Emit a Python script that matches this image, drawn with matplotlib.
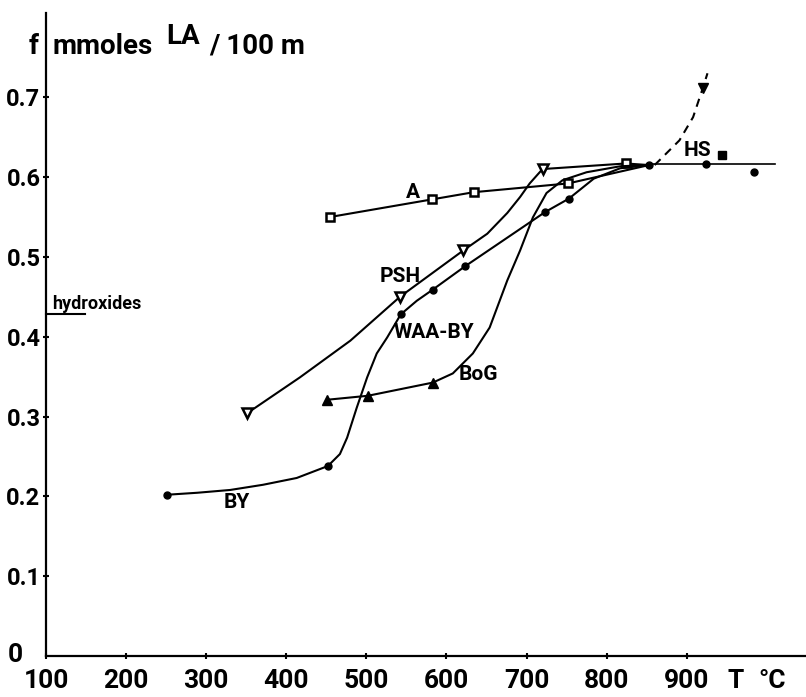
import matplotlib
matplotlib.use("Agg")
from matplotlib import pyplot as plt

plt.rcParams["font.family"] = ["Roboto", "DejaVu Sans"]
plt.rcParams["font.weight"] = "bold"

# curves (T in degC, f in mmoles LA / 100 m)
A_T = [455, 582, 634, 752, 853]
A_f = [0.550, 0.572, 0.581, 0.592, 0.615]
A_mark = [0, 1, 2, 3]

PSH_T = [351, 417, 480, 542, 621, 651, 676, 692, 704, 720, 824, 853]
PSH_f = [0.304, 0.349, 0.395, 0.450, 0.508, 0.529, 0.555, 0.575, 0.592, 0.610, 0.617, 0.615]
PSH_mark = [0, 3, 4, 9]
PSH_sq = [10]

BY_T = [251, 289, 330, 371, 413, 452, 467, 476, 488, 501, 513, 526, 543, 563, 583,
        623, 723, 753, 784, 817, 853]
BY_f = [0.202, 0.2045, 0.208, 0.2145, 0.223, 0.238, 0.253, 0.2735, 0.311, 0.349, 0.379,
        0.399, 0.428, 0.445, 0.459, 0.488, 0.556, 0.573, 0.598, 0.611, 0.615]
BY_mark = [0, 5, 12, 14, 15, 16, 17, 20]

BoG_T = [451, 502, 583, 608, 633, 654, 676, 692, 708, 725, 745, 775, 817, 853]
BoG_f = [0.321, 0.326, 0.3425, 0.354, 0.379, 0.4115, 0.4705, 0.508, 0.5495, 0.580,
         0.596, 0.606, 0.6135, 0.615]
BoG_mark = [0, 1, 2]

HS_T = [853, 1010]
HS_f = [0.616, 0.616]
HS_dots_T = [924, 984]
HS_dots_f = [0.616, 0.606]
HS_sq_T = [944]
HS_sq_f = [0.627]

dash_T = [860, 891, 908, 920, 926]
dash_f = [0.615, 0.646, 0.675, 0.711, 0.730]

hydrox_T = [100, 149]
hydrox_f = [0.428, 0.428]

x_ticks = [100, 200, 300, 400, 500, 600, 700, 800, 900]
y_ticks = [0.1, 0.2, 0.3, 0.4, 0.5, 0.6, 0.7]

labels = [("A", 413, 192), ("PSH", 400, 277), ("WAA-BY", 434, 332),
          ("BoG", 478, 375), ("BY", 237, 503), ("HS", 697, 150)]

W, H = 806, 697
fig = plt.figure(figsize=(W / 100, H / 100), dpi=100)
ax = fig.add_axes([46 / W, 41 / H, 760 / W, 643 / H])
ax.set_xlim(100, 1049)
ax.set_ylim(0, 0.8055)

for s in ["top", "right"]:
    ax.spines[s].set_visible(False)
for s in ["left", "bottom"]:
    ax.spines[s].set_linewidth(1.6)

lw = 1.5
k = "black"

ax.plot(A_T, A_f, color=k, lw=lw)
ax.plot([A_T[i] for i in A_mark], [A_f[i] for i in A_mark], "s", ms=6,
        mfc="white", mec=k, mew=1.8)

ax.plot(PSH_T, PSH_f, color=k, lw=lw)
ax.plot([PSH_T[i] for i in PSH_mark], [PSH_f[i] for i in PSH_mark], "v", ms=7,
        mfc="white", mec=k, mew=1.8)
ax.plot([PSH_T[i] for i in PSH_sq], [PSH_f[i] for i in PSH_sq], "s", ms=6,
        mfc="white", mec=k, mew=1.8)

ax.plot(BY_T, BY_f, color=k, lw=lw)
ax.plot([BY_T[i] for i in BY_mark], [BY_f[i] for i in BY_mark], "o", ms=5, color=k)

ax.plot(BoG_T, BoG_f, color=k, lw=lw)
ax.plot([BoG_T[i] for i in BoG_mark], [BoG_f[i] for i in BoG_mark], "^", ms=7, color=k)

ax.plot(HS_T, HS_f, color=k, lw=1.2)
ax.plot(HS_dots_T, HS_dots_f, "o", ms=5, color=k)
ax.plot(HS_sq_T, HS_sq_f, "s", ms=6, color=k)
ax.plot(dash_T, dash_f, color=k, lw=1.5, ls=(0, (4, 3)))
ax.plot(dash_T[3], dash_f[3], "v", ms=7, color=k)

ax.plot(hydrox_T, hydrox_f, color=k, lw=1.5, clip_on=False)
ax.text(52, H - 309, "hydroxides", transform=None, fontsize=13, ha="left", va="baseline")

for txt, px, py in labels:
    ax.text(px, H - py, txt, transform=None, fontsize=15, ha="center", va="center")

ax.set_xticks(x_ticks)
ax.set_xticklabels([str(t) for t in x_ticks], fontsize=19)
ax.set_yticks(y_ticks)
ax.set_yticklabels([f"{v:.1f}" for v in y_ticks], fontsize=17)
ax.tick_params(axis="both", direction="inout", length=4, width=1.5, pad=2)
ax.tick_params(axis="x", pad=7)

# axis titles written as free text
fig.text(15 / W, 1 - 655 / H, "0", fontsize=19, ha="center", va="center")
fig.text(736 / W, 1 - 681 / H, "T", fontsize=19, ha="center", va="center")
fig.text(772 / W, 1 - 681 / H, "°C", fontsize=19, ha="center", va="center")
fig.text(34 / W, 1 - 46 / H, "f", fontsize=20, ha="center", va="center")
fig.text(53 / W, 1 - 47 / H, "mmoles", fontsize=20, ha="left", va="center")
fig.text(166 / W, 1 - 37 / H, "LA", fontsize=20, ha="left", va="center")
fig.text(209 / W, 1 - 46 / H, "/ 100 m", fontsize=20, ha="left", va="center")

fig.savefig("out.png", dpi=100)
